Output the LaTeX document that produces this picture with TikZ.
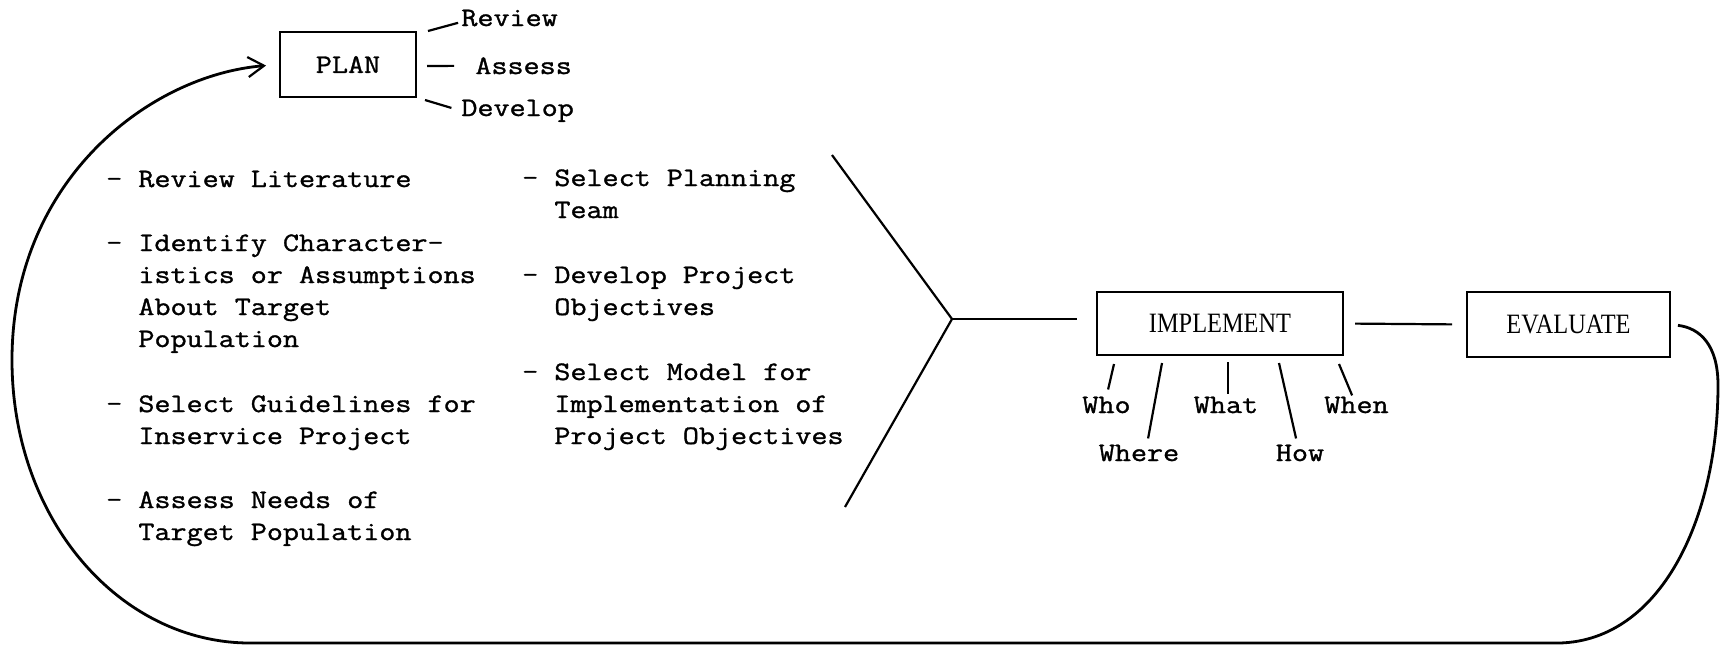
\documentclass[tikz,border=0pt]{standalone}
\usepackage{fontspec}
\setmonofont[FakeStretch=1.17, FakeBold=1.2]{Latin Modern Mono}
\newfontfamily\boxfont[FakeStretch=0.87]{Liberation Serif}
\usetikzlibrary{arrows.meta}
\tikzset{
  tw/.style={font=\ttfamily\fontsize{13.33pt}{16pt}\selectfont, inner sep=0pt, align=left},
  item/.style={tw, anchor=base west},
  lbl/.style={tw, anchor=base},
  box/.style={draw, line width=1pt, inner sep=0pt},
  bf/.style={font=\boxfont\fontsize{14pt}{16pt}\selectfont},
  ln/.style={line width=1.1pt},
  loopline/.style={line width=1.4pt, -{Straight Barb[length=8pt,width=10pt,line width=1.1pt]}},
}
\begin{document}
\begin{tikzpicture}[x=0.5pt,y=-0.5pt]
\fill[white] (0,0) rectangle (1720,645);
\useasboundingbox (0,0) rectangle (1720,645);

% boxes
\node[box, tw, minimum width=68pt, minimum height=32.5pt] (plan) at (348,64.5) {PLAN};
\node[box, bf, minimum width=123pt, minimum height=31.5pt] (impl) at (1220,323.5) {IMPLEMENT};
\node[box, bf, minimum width=101.5pt, minimum height=32.5pt] (eval) at (1568.5,324.5) {EVALUATE};

% PLAN branches
\node[item] (rev) at (461,26) {Review};
\node[item] (ass) at (475,74) {Assess};
\node[item] (dev) at (461,116) {Develop};
\coordinate (r0) at (428,31);
\coordinate (a0) at (427,66);
\coordinate (d0) at (425,100);
\draw[ln, shorten >=1.5pt] (r0) -- ([yshift=-2pt]rev.west);
\draw[ln, shorten >=10.5pt] (a0) -- (ass.west);
\draw[ln, shorten >=5pt] (d0) -- (dev.west);

% left column (base = baseline of last line)
\node[item] (l1) at (138,187) {\llap{- }Review Literature};
\node[item] (l2) at (138,347) {\llap{- }Identify Character-\\istics or Assumptions\\About Target\\Population};
\node[item] (l3) at (138,444) {\llap{- }Select Guidelines for\\Inservice Project};
\node[item] (l4) at (138,540) {\llap{- }Assess Needs of\\Target Population};

% right column
\node[item] (r1) at (554,218) {\llap{- }Select Planning\\Team};
\node[item] (r2) at (554,315) {\llap{- }Develop Project\\Objectives};
\node[item] (r3) at (554,444) {\llap{- }Select Model for\\Implementation of\\Project Objectives};

% chevron
\coordinate (ct) at (832,155);
\coordinate (cv) at (952,319);
\coordinate (cb) at (845,507);
\draw[ln] (ct) -- (cv) -- (cb);
\draw[ln, shorten >=9.5pt] (cv) -- (cv -| impl.west);
\draw[ln, shorten <=5.5pt, shorten >=7pt] (impl.east) -- (eval.west);

% IMPLEMENT sub-labels
\node[lbl] (who) at (1106.5,413) {Who};
\node[lbl] (where) at (1139,461) {Where};
\node[lbl] (what) at (1226,413) {What};
\node[lbl] (how) at (1300,461) {How};
\node[lbl] (when) at (1356.5,413) {When};
\coordinate (w0) at (1114,364);
\coordinate (wh0) at (1162,363);
\coordinate (wt0) at (1228,362);
\coordinate (h0) at (1279,363);
\coordinate (wn0) at (1339,364);
\draw[ln, shorten >=3.5pt] (w0) -- (who.north);
\draw[ln, shorten >=3pt] (wh0) -- ([xshift=4pt]where.north);
\draw[ln, shorten >=1pt] (wt0) -- ([xshift=1pt]what.north);
\draw[ln, shorten >=3pt] (h0) -- ([xshift=-1.3pt]how.north);
\draw[ln, shorten >=0.5pt] (wn0) -- ([xshift=-2pt]when.north);

% feedback loop
\draw[loopline, shorten <=3.5pt, shorten >=6.5pt] (eval.east)
  .. controls (1700,328) and (1718,345) .. (1718,385)
  .. controls (1718,520) and (1660,640) .. (1560,643)
  -- (250,643)
  .. controls (120,643) and (12,520) .. (12,360)
  .. controls (12,180) and (150,75) .. (plan.west);
\end{tikzpicture}
\end{document}
